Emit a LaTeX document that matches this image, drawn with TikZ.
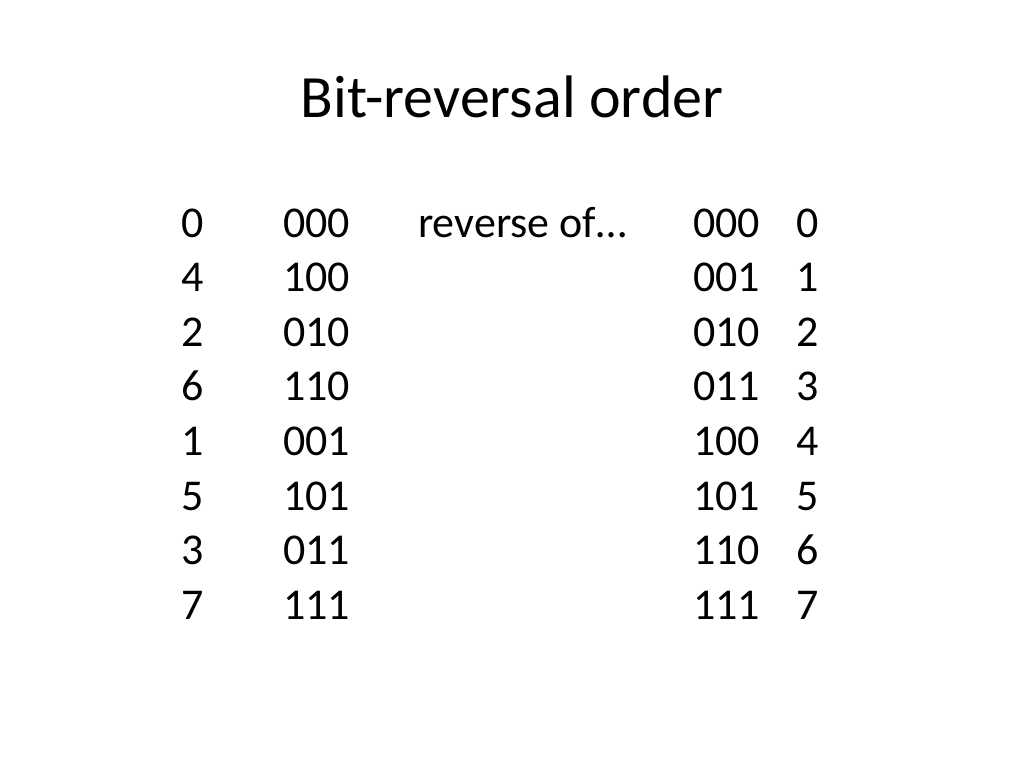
\documentclass[tikz,border=0pt]{standalone}
\usepackage{fontspec}
\setmainfont{Carlito}
\begin{document}
\begin{tikzpicture}[x=1pt,y=-1pt,
  cell/.style={anchor=base west,inner sep=0pt,font=\fontsize{44}{50}\selectfont}]
\useasboundingbox (0,0) rectangle (1024,768);
\node[anchor=base,inner sep=0pt,font=\fontsize{60}{70}\selectfont] (title) at (512,117) {Bit-reversal order};
\node[cell] (rev) at (418,237) {reverse of\ldots};
\foreach \a/\b/\c/\d [count=\i from 0] in {0/000/000/0,4/100/001/1,2/010/010/2,6/110/011/3,1/001/100/4,5/101/101/5,3/011/110/6,7/111/111/7}{
  \pgfmathsetmacro{\yy}{237+54.6*\i}
  \node[cell] (a\i) at (181,\yy) {\a};
  \node[cell] (b\i) at (283,\yy) {\b};
  \node[cell] (c\i) at (693,\yy) {\c};
  \node[cell] (d\i) at (796,\yy) {\d};
}
\end{tikzpicture}
\end{document}
